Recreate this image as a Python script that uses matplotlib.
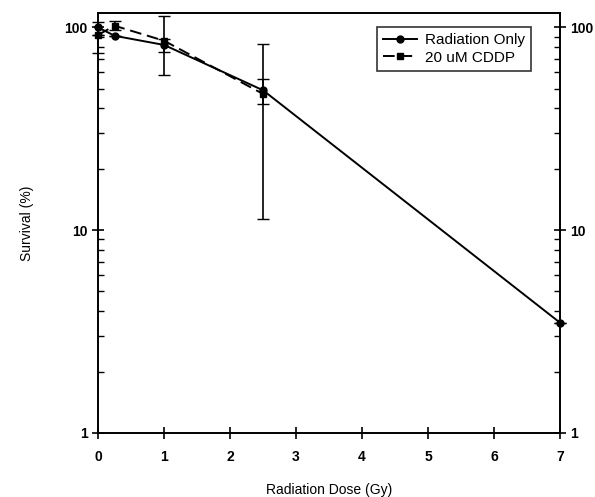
import numpy as np
import matplotlib.pyplot as plt
from matplotlib.ticker import LogLocator, NullFormatter, FixedLocator

# dose points (Gy) and survival (%)
dose_rad = [0, 0.25, 1, 2.5, 7]
surv_rad = [100, 91, 82, 49, 3.5]
rad_lo = [75, 91, 58, 11.3, 3.5]
rad_hi = [107, 91, 114, 83, 3.5]

dose_cddp = [0, 0.25, 1, 2.5]
surv_cddp = [92, 102, 86, 47]
cddp_lo = [92, 97, 76, 42]
cddp_hi = [92, 108, 88, 56]

x_ticks = [0, 1, 2, 3, 4, 5, 6, 7]
y_ticks = [1, 10, 100]

plt.rcParams['font.family'] = ['Liberation Sans', 'DejaVu Sans']

fig = plt.figure(figsize=(5.95, 4.97), dpi=100)
ax = fig.add_axes([0.165, 0.129, 0.776, 0.845])

# error bars given as absolute bounds -> convert to offsets
rad_err = [np.array(surv_rad) - np.array(rad_lo), np.array(rad_hi) - np.array(surv_rad)]
cddp_err = [np.array(surv_cddp) - np.array(cddp_lo), np.array(cddp_hi) - np.array(surv_cddp)]

ax.errorbar(dose_rad, surv_rad, yerr=rad_err, fmt='none', ecolor='black',
            capsize=4, elinewidth=1.2, clip_on=False, zorder=2)
ax.errorbar(dose_cddp, surv_cddp, yerr=cddp_err, fmt='none', ecolor='black',
            capsize=4, elinewidth=1.2, clip_on=False, zorder=2)

ax.plot(dose_rad, surv_rad, color='black', linestyle='-', marker='o',
        markersize=5, linewidth=1.4, label='Radiation Only', clip_on=False, zorder=3)
ax.plot(dose_cddp, surv_cddp, color='black', linestyle=(0, (6, 3)), marker='s',
        markersize=4.5, linewidth=1.4, label='20 uM CDDP', clip_on=False, zorder=3)

ax.set_yscale('log')
ax.set_xlim(0, 7)
ax.set_ylim(1, 118)

ax.xaxis.set_major_locator(FixedLocator(x_ticks))
ax.set_xticklabels([str(t) for t in x_ticks], fontsize=10, fontweight='bold')
ax.yaxis.set_major_locator(FixedLocator(y_ticks))
ax.set_yticklabels([str(t) for t in y_ticks], fontsize=10, fontweight='bold')
ax.yaxis.set_minor_locator(LogLocator(base=10, subs=np.arange(2, 10)))
ax.yaxis.set_minor_formatter(NullFormatter())

ax.tick_params(axis='both', which='major', direction='inout', length=8, width=1.2)
ax.tick_params(axis='y', which='minor', direction='in', length=4, width=1)
ax.tick_params(axis='y', which='both', right=True, labelright=True)
ax.tick_params(axis='x', pad=8)

for s in ax.spines.values():
    s.set_linewidth(1.4)

ax.set_xlabel('Radiation Dose (Gy)', fontsize=10, labelpad=14)
ax.set_ylabel('Survival (%)', fontsize=10, labelpad=22)

leg = ax.legend(loc='upper right', bbox_to_anchor=(0.937, 0.967), fontsize=11,
                frameon=True, fancybox=False, edgecolor='black', handlelength=2.2,
                borderpad=0.4, labelspacing=0.25, handletextpad=0.5,
                borderaxespad=0)
leg.get_frame().set_linewidth(1.2)

fig.savefig('out.png', dpi=100)
